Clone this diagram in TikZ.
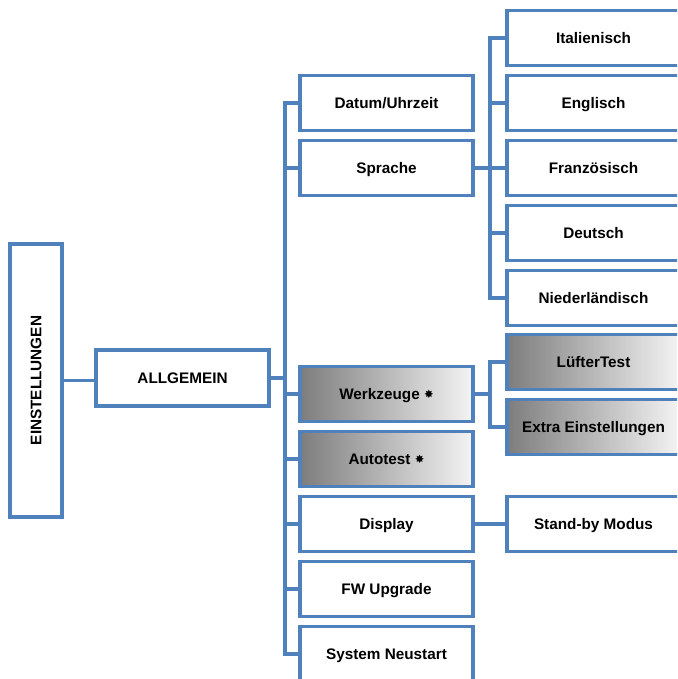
\documentclass[tikz,border=0pt]{standalone}
\usepackage{fontspec}
\setmainfont{Liberation Sans}
\newfontfamily\symfont{DejaVu Sans}
\definecolor{linkblue}{RGB}{79,129,189}
\definecolor{shadedark}{RGB}{125,125,125}
\definecolor{shadelight}{RGB}{244,244,244}
\newcommand{\toolmark}{\raisebox{0.6pt}{\symfont\fontsize{11.5}{11.5}\selectfont ✸}}
\tikzset{
  menubox/.style={draw=linkblue, line width=3.2pt, fill=white, rectangle,
    minimum width=173pt, minimum height=55pt, inner sep=0pt,
    text height=14pt, text depth=3pt,
    font=\fontsize{15.3}{18}\selectfont\bfseries},
  toolbox/.style={menubox, left color=shadedark, right color=shadelight},
  conn/.style={draw=linkblue, line width=3.2pt}
}
\begin{document}
\begin{tikzpicture}[x=1pt,y=-1pt]
\useasboundingbox (0,0) rectangle (677,679);
\clip (0,0) rectangle (677,679);

% root and first level
\node[menubox, minimum width=52pt, minimum height=273pt, text height=, text depth=] (root) at (36,380.5)
  {\rotatebox{90}{EINSTELLUNGEN}};
\node[menubox, minimum height=56pt] (allg) at (182.5,378) {ALLGEMEIN};

% second level
\node[menubox] (datum)   at (386.5,103) {Datum/Uhrzeit};
\node[menubox] (sprache) at (386.5,168) {Sprache};
\node[toolbox] (werk)    at (386.5,394) {Werkzeuge \toolmark};
\node[toolbox] (auto)    at (386.5,459) {Autotest \toolmark};
\node[menubox] (disp)    at (386.5,524) {Display};
\node[menubox] (fw)      at (386.5,589) {FW Upgrade};
\node[menubox] (reboot)  at (386.5,654) {System Neustart};

% third level
\node[menubox] (ital)  at (593.5,38)  {Italienisch};
\node[menubox] (engl)  at (593.5,103) {Englisch};
\node[menubox] (franz) at (593.5,168) {Französisch};
\node[menubox] (deu)   at (593.5,233) {Deutsch};
\node[menubox] (nl)    at (593.5,298) {Niederländisch};
\node[toolbox] (fan)   at (593.5,362) {LüfterTest};
\node[toolbox] (extra) at (593.5,427) {Extra Einstellungen};
\node[menubox] (stby)  at (593.5,524) {Stand-by Modus};

% trunk positions
\coordinate (t1) at (285,0);
\coordinate (t2) at (490,0);

% connectors
\draw[conn] (root.east) -- (root.east -| allg.west);
\draw[conn] (allg.east) -- (allg.east -| t1);
\draw[conn] (datum.west) -- (datum.west -| t1) -- (reboot.west -| t1) -- (reboot.west);
\foreach \n in {sprache,werk,auto,disp,fw}
  \draw[conn] (\n.west) -- (\n.west -| t1);

\draw[conn] (sprache.east) -- (sprache.east -| t2);
\draw[conn] (ital.west) -- (ital.west -| t2) -- (nl.west -| t2) -- (nl.west);
\foreach \n in {engl,franz,deu}
  \draw[conn] (\n.west) -- (\n.west -| t2);

\draw[conn] (werk.east) -- (werk.east -| t2);
\draw[conn] (fan.west) -- (fan.west -| t2) -- (extra.west -| t2) -- (extra.west);

\draw[conn] (disp.east) -- (stby.west);
\end{tikzpicture}
\end{document}
